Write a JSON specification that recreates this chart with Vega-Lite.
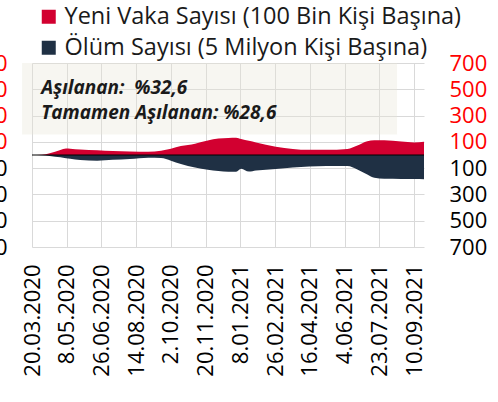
{
  "$schema": "https://vega.github.io/schema/vega-lite/v6.json",
  "width": 392,
  "height": 184,
  "autosize": {"type": "none"},
  "padding": {"left": 32, "top": 63, "right": 74, "bottom": 155},
  "background": "white",
  "config": {
    "view": {"stroke": null},
    "font": "Open Sans",
    "legend": {
      "orient": "none",
      "legendX": 5,
      "legendY": -58,
      "symbolType": "square",
      "symbolSize": 196,
      "symbolStrokeWidth": 0,
      "symbolOpacity": 1,
      "labelFontSize": 23.5,
      "labelFont": "Open Sans",
      "labelColor": "#1a1a1a",
      "labelLimit": 0,
      "labelOffset": 4,
      "rowPadding": 6,
      "padding": 0,
      "title": null
    }
  },
  "datasets": {
    "covid": [
      {"date": "2020-03-20", "vaka": 0, "olum": 0},
      {"date": "2020-04-03", "vaka": 2, "olum": -1},
      {"date": "2020-04-14", "vaka": 13, "olum": -8},
      {"date": "2020-04-29", "vaka": 38, "olum": -18},
      {"date": "2020-05-07", "vaka": 50, "olum": -24},
      {"date": "2020-05-13", "vaka": 48, "olum": -28},
      {"date": "2020-05-27", "vaka": 41, "olum": -38},
      {"date": "2020-06-20", "vaka": 36, "olum": -43},
      {"date": "2020-07-12", "vaka": 30, "olum": -37},
      {"date": "2020-08-05", "vaka": 27, "olum": -31},
      {"date": "2020-08-31", "vaka": 25, "olum": -21},
      {"date": "2020-09-18", "vaka": 33, "olum": -23},
      {"date": "2020-10-02", "vaka": 48, "olum": -43},
      {"date": "2020-10-16", "vaka": 68, "olum": -68},
      {"date": "2020-11-05", "vaka": 86, "olum": -96},
      {"date": "2020-11-23", "vaka": 110, "olum": -112},
      {"date": "2020-12-08", "vaka": 125, "olum": -122},
      {"date": "2020-12-22", "vaka": 130, "olum": -127},
      {"date": "2021-01-02", "vaka": 132, "olum": -127},
      {"date": "2021-01-09", "vaka": 121, "olum": -104},
      {"date": "2021-01-20", "vaka": 108, "olum": -126},
      {"date": "2021-01-30", "vaka": 95, "olum": -118},
      {"date": "2021-02-27", "vaka": 63, "olum": -106},
      {"date": "2021-03-23", "vaka": 46, "olum": -96},
      {"date": "2021-04-15", "vaka": 39, "olum": -88},
      {"date": "2021-05-09", "vaka": 39, "olum": -84},
      {"date": "2021-06-08", "vaka": 46, "olum": -84},
      {"date": "2021-06-22", "vaka": 72, "olum": -110},
      {"date": "2021-07-06", "vaka": 104, "olum": -148},
      {"date": "2021-07-16", "vaka": 113, "olum": -174},
      {"date": "2021-07-30", "vaka": 112, "olum": -181},
      {"date": "2021-08-23", "vaka": 102, "olum": -182},
      {"date": "2021-09-10", "vaka": 95, "olum": -183},
      {"date": "2021-09-24", "vaka": 100, "olum": -184}
    ]
  },
  "data": {"name": "covid"},
  "resolve": {"axis": {"y": "independent"}},
  "layer": [
    {
      "mark": {"type": "area", "interpolate": "monotone"},
      "encoding": {
        "x": {
          "field": "date",
          "type": "temporal",
          "scale": {"domain": [1584662400000, 1632441600000]},
          "axis": {
            "title": null,
            "values": [1584662400000, 1588896000000, 1593129600000, 1597363200000, 1601596800000, 1605830400000, 1610064000000, 1614297600000, 1618531200000, 1622764800000, 1626998400000, 1631232000000],
            "labelExpr": "utcFormat(datum.value, '%-d.%m.%Y')",
            "labelAngle": -90,
            "labelAlign": "right",
            "labelBaseline": "middle",
            "labelFontSize": 22,
            "labelColor": "#000000",
            "labelPadding": 17,
            "labelOverlap": false,
            "labelFlush": false,
            "ticks": false,
            "domain": false,
            "grid": true,
            "gridColor": "#d9d9d9",
            "gridWidth": 1
          }
        },
        "y": {
          "field": "vaka",
          "type": "quantitative",
          "scale": {"domain": [-700, 700], "nice": false, "zero": false},
          "axis": {
            "orient": "left",
            "title": null,
            "values": [-700, -500, -300, -100, 100, 300, 500, 700],
            "labelExpr": "format(abs(datum.value), 'd')",
            "labelColor": {"condition": {"test": "datum.value > 0", "value": "#ff0000"}, "value": "#000000"},
            "labelFontSize": 22,
            "labelPadding": 25,
            "ticks": false,
            "domain": false,
            "grid": true,
            "gridColor": "#d9d9d9",
            "gridWidth": 1
          }
        },
        "color": {
          "datum": "Yeni Vaka Sayısı (100 Bin Kişi Başına)",
          "type": "nominal",
          "scale": {
            "domain": ["Yeni Vaka Sayısı (100 Bin Kişi Başına)", "Ölüm Sayısı (5 Milyon Kişi Başına)"],
            "range": ["#d20030", "#1f3044"]
          }
        }
      }
    },
    {
      "mark": {"type": "area", "interpolate": "monotone"},
      "encoding": {
        "x": {
          "field": "date",
          "type": "temporal",
          "axis": {
            "title": null,
            "values": [1584662400000, 1588896000000, 1593129600000, 1597363200000, 1601596800000, 1605830400000, 1610064000000, 1614297600000, 1618531200000, 1622764800000, 1626998400000, 1631232000000],
            "labelExpr": "utcFormat(datum.value, '%-d.%m.%Y')",
            "labelAngle": -90,
            "labelAlign": "right",
            "labelBaseline": "middle",
            "labelFontSize": 22,
            "labelColor": "#000000",
            "labelPadding": 17,
            "labelOverlap": false,
            "labelFlush": false,
            "ticks": false,
            "domain": false,
            "grid": true,
            "gridColor": "#d9d9d9",
            "gridWidth": 1
          }
        },
        "y": {
          "field": "olum",
          "type": "quantitative",
          "axis": {
            "orient": "right",
            "title": null,
            "values": [-700, -500, -300, -100, 100, 300, 500, 700],
            "labelExpr": "format(abs(datum.value), 'd')",
            "labelColor": {"condition": {"test": "datum.value > 0", "value": "#ff0000"}, "value": "#000000"},
            "labelFontSize": 22,
            "labelPadding": 25,
            "ticks": false,
            "domain": false,
            "grid": false
          }
        },
        "color": {"datum": "Ölüm Sayısı (5 Milyon Kişi Başına)", "type": "nominal"}
      }
    },
    {
      "data": {"values": [{"x1": "2020-03-06", "x2": "2021-08-17", "y1": 700, "y2": 156}]},
      "mark": {"type": "rect", "color": "#e9e4d6", "opacity": 0.35},
      "encoding": {
        "x": {
          "field": "x1",
          "type": "temporal",
          "axis": {
            "title": null,
            "values": [1584662400000, 1588896000000, 1593129600000, 1597363200000, 1601596800000, 1605830400000, 1610064000000, 1614297600000, 1618531200000, 1622764800000, 1626998400000, 1631232000000],
            "labelExpr": "utcFormat(datum.value, '%-d.%m.%Y')",
            "labelAngle": -90,
            "labelAlign": "right",
            "labelBaseline": "middle",
            "labelFontSize": 22,
            "labelColor": "#000000",
            "labelPadding": 17,
            "labelOverlap": false,
            "labelFlush": false,
            "ticks": false,
            "domain": false,
            "grid": true,
            "gridColor": "#d9d9d9",
            "gridWidth": 1
          }
        },
        "x2": {"field": "x2"},
        "y": {"field": "y1", "type": "quantitative", "axis": null},
        "y2": {"field": "y2"}
      }
    },
    {
      "data": {"values": [{"y": 0}]},
      "mark": {"type": "rule", "color": "#000000", "strokeWidth": 1},
      "encoding": {"y": {"field": "y", "type": "quantitative", "axis": null}}
    },
    {
      "data": {"values": [
        {"label": "Aşılanan:\u00a0 %32,6", "d": "2020-04-02", "v": 506},
        {"label": "Tamamen Aşılanan: %28,6", "d": "2020-04-02", "v": 323}
      ]},
      "mark": {"type": "text", "align": "left", "baseline": "middle", "fontSize": 19, "fontWeight": "bold", "fontStyle": "italic", "color": "#1a1a1a", "font": "Open Sans"},
      "encoding": {
        "x": {
          "field": "d",
          "type": "temporal",
          "axis": {
            "title": null,
            "values": [1584662400000, 1588896000000, 1593129600000, 1597363200000, 1601596800000, 1605830400000, 1610064000000, 1614297600000, 1618531200000, 1622764800000, 1626998400000, 1631232000000],
            "labelExpr": "utcFormat(datum.value, '%-d.%m.%Y')",
            "labelAngle": -90,
            "labelAlign": "right",
            "labelBaseline": "middle",
            "labelFontSize": 22,
            "labelColor": "#000000",
            "labelPadding": 17,
            "labelOverlap": false,
            "labelFlush": false,
            "ticks": false,
            "domain": false,
            "grid": true,
            "gridColor": "#d9d9d9",
            "gridWidth": 1
          }
        },
        "y": {"field": "v", "type": "quantitative", "axis": null},
        "text": {"field": "label"}
      }
    }
  ]
}
